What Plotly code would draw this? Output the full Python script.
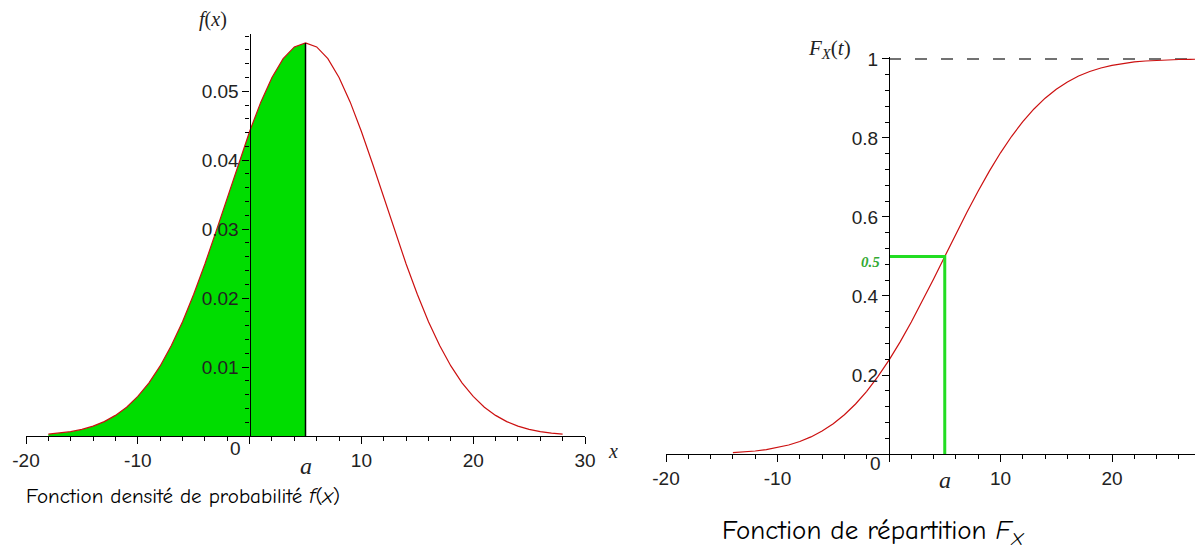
import plotly.graph_objects as go

# ---- data ----
a = 5
x_pdf = list(range(-18, 29))
f_pdf = [0.00026, 0.00041, 0.00063, 0.00096, 0.00143, 0.00209, 0.00299, 0.00418, 0.00574, 0.00771,
         0.01016, 0.01312, 0.01658, 0.02055, 0.02494, 0.02967, 0.03457, 0.03948, 0.04416, 0.04842,
         0.05200, 0.05472, 0.05642, 0.05700,
         0.05642, 0.05472, 0.05200, 0.04842, 0.04416, 0.03948, 0.03457, 0.02967, 0.02494, 0.02055,
         0.01658, 0.01312, 0.01016, 0.00771, 0.00574, 0.00418, 0.00299, 0.00209, 0.00143, 0.00096,
         0.00063, 0.00041, 0.00026]
x_cdf = list(range(-14, 29))
F_cdf = [0.00332, 0.00507, 0.00758, 0.01113, 0.01606, 0.02275, 0.03165, 0.04324, 0.05804, 0.07656,
         0.09927, 0.12655, 0.15866, 0.19568, 0.23753, 0.28385, 0.33412, 0.38755, 0.44320, 0.50000,
         0.55680, 0.61245, 0.66588, 0.71615, 0.76247, 0.80432, 0.84134, 0.87345, 0.90073, 0.92344,
         0.94196, 0.95676, 0.96835, 0.97725, 0.98394, 0.98887, 0.99242, 0.99493, 0.99668, 0.99786,
         0.99865, 0.99916, 0.99949]
F_a = 0.5

x1_ticks = [-20, -10, 0, 10, 20, 30]
x1_text = ["-20", "-10", "", "10", "20", "30"]
y1_ticks = [0.01, 0.02, 0.03, 0.04, 0.05]
y1_text = ["0.01", "0.02", "0.03", "0.04", "0.05"]
x2_ticks = [-20, -10, 0, 10, 20]
x2_text = ["-20", "-10", "", "10", "20"]
y2_ticks = [0.2, 0.4, 0.6, 0.8, 1.0]
y2_text = ["0.2", "0.4", "0.6", "0.8", "1"]

# ---- layout geometry (page pixels; page body has an 8px margin) ----
OFF = 8
W, H = 1203 - OFF, 558 - OFF


def PX(p):
    return (p - OFF) / W


def PY(p):
    return 1 - (p - OFF) / H


x1_dom = [PX(26), PX(585)]
x1_rng = [-20, 30]
y1_dom = [PY(436), PY(34)]
y1_rng = [0, 0.0583]
x2_dom = [PX(666), 1.0]
x2_rng = [-20, 28.16]
y2_dom = [PY(454), PY(57)]
y2_rng = [0, 1.005]


def zero_pos(dom, rng):
    return dom[0] + (0 - rng[0]) / (rng[1] - rng[0]) * (dom[1] - dom[0])


RED = "#cc1010"
GREEN = "#00dd00"
tickfont = dict(family="Liberation Sans, Arial, sans-serif", size=19, color="#222")

fig = go.Figure()

# left: density with shaded area up to a
xf = [v for v in x_pdf if v <= a]
yf = [f_pdf[i] for i, v in enumerate(x_pdf) if v <= a]
fig.add_trace(go.Scatter(x=xf, y=yf, fill="tozeroy", fillcolor=GREEN, mode="lines",
                         line=dict(width=0), xaxis="x", yaxis="y", hoverinfo="skip"))
fig.add_trace(go.Scatter(x=x_pdf, y=f_pdf, mode="lines", line=dict(color=RED, width=1.2),
                         xaxis="x", yaxis="y"))
fa = f_pdf[x_pdf.index(a)]
fig.add_trace(go.Scatter(x=[a, a], y=[0, fa], mode="lines", line=dict(color="black", width=1.5),
                         xaxis="x", yaxis="y"))

# right: CDF
fig.add_trace(go.Scatter(x=[0, x2_rng[1]], y=[1, 1], mode="lines",
                         line=dict(color="#444", width=1.5, dash="12px,14px"),
                         xaxis="x2", yaxis="y2"))
fig.add_trace(go.Scatter(x=x_cdf, y=F_cdf, mode="lines", line=dict(color=RED, width=1.2),
                         xaxis="x2", yaxis="y2"))
fig.add_trace(go.Scatter(x=[0, a, a], y=[F_a, F_a, 0], mode="lines",
                         line=dict(color="#22dd22", width=3), xaxis="x2", yaxis="y2"))

common_x = dict(showline=True, linecolor="black", linewidth=1.3, ticks="outside", ticklen=7,
                tickcolor="black", tickwidth=1.3, showgrid=False, zeroline=False, tickfont=tickfont,
                tickmode="array", automargin=False,
                minor=dict(tickmode="linear", tick0=0, dtick=2, ticks="outside", ticklen=4,
                           tickcolor="black", tickwidth=1.2))

fig.update_layout(
    template="none",
    width=W, height=H, margin=dict(l=0, r=0, t=0, b=0, pad=0), autosize=False,
    paper_bgcolor="white", plot_bgcolor="white", showlegend=False,
    xaxis=dict(domain=x1_dom, range=x1_rng, anchor="y", tickvals=x1_ticks, ticktext=x1_text, **common_x),
    yaxis=dict(domain=y1_dom, range=y1_rng, anchor="free", position=zero_pos(x1_dom, x1_rng),
               showline=True, linecolor="black", linewidth=1.3, ticks="outside", ticklen=7,
               tickcolor="black", tickwidth=1.3, showgrid=False, zeroline=False, tickfont=tickfont,
               tickmode="array", tickvals=y1_ticks, ticktext=y1_text, automargin=False,
               minor=dict(tickmode="linear", tick0=0, dtick=0.002, ticks="outside", ticklen=4,
                          tickcolor="black", tickwidth=1.2)),
    xaxis2=dict(domain=x2_dom, range=x2_rng, anchor="y2", tickvals=x2_ticks, ticktext=x2_text, **common_x),
    yaxis2=dict(domain=y2_dom, range=y2_rng, anchor="free", position=zero_pos(x2_dom, x2_rng),
                showline=True, linecolor="black", linewidth=1.3, ticks="outside", ticklen=7,
                tickcolor="black", tickwidth=1.3, showgrid=False, zeroline=False, tickfont=tickfont,
                tickmode="array", tickvals=y2_ticks, ticktext=y2_text, automargin=False,
                minor=dict(tickmode="linear", tick0=0, dtick=0.04, ticks="outside", ticklen=4,
                           tickcolor="black", tickwidth=1.2)),
)

serif = "Liberation Serif, DejaVu Serif, serif"
caption_font = dict(family="Comic Sans MS, Comic Neue, Noto Sans, sans-serif", size=21, color="black")
C = dict(showarrow=False, xanchor="center", yanchor="middle")
ann = [
    dict(text="<i>f</i>(<i>x</i>)", x=PX(213), y=PY(19), xref="paper", yref="paper",
         font=dict(family=serif, size=20, color="#222"), **C),
    dict(text="<i>x</i>", x=PX(613), y=PY(451), xref="paper", yref="paper",
         font=dict(family=serif, size=20, color="#222"), **C),
    dict(text="0", x=PX(235), y=PY(448), xref="paper", yref="paper", font=tickfont, **C),
    dict(text="<i>a</i>", x=a, xref="x", y=PY(466), yref="paper",
         font=dict(family=serif, size=24, color="#222"), **C),
    dict(text="<i>F</i><sub><i>X</i></sub>(<i>t</i>)", x=PX(829), y=PY(49), xref="paper", yref="paper",
         font=dict(family=serif, size=21, color="#222"), **C),
    dict(text="0", x=PX(875), y=PY(463), xref="paper", yref="paper", font=tickfont, **C),
    dict(text="<b><i>0.5</i></b>", x=PX(870), y=PY(262), xref="paper", yref="paper",
         font=dict(family=serif, size=15, color="#33aa33"), **C),
    dict(text="<i>a</i>", x=a, xref="x2", y=PY(480), yref="paper",
         font=dict(family=serif, size=24, color="#222"), **C),
    dict(text="Fonction densité de probabilité <i>f</i>(<i>x</i>)", x=PX(183), y=PY(496),
         xref="paper", yref="paper", font=caption_font, **C),
    dict(text="Fonction de répartition <i>F<sub>X</sub></i>", x=PX(873), y=PY(532),
         xref="paper", yref="paper", font=dict(caption_font, size=27), **C),
]
fig.update_layout(annotations=ann)

fig.write_html("out.html")
